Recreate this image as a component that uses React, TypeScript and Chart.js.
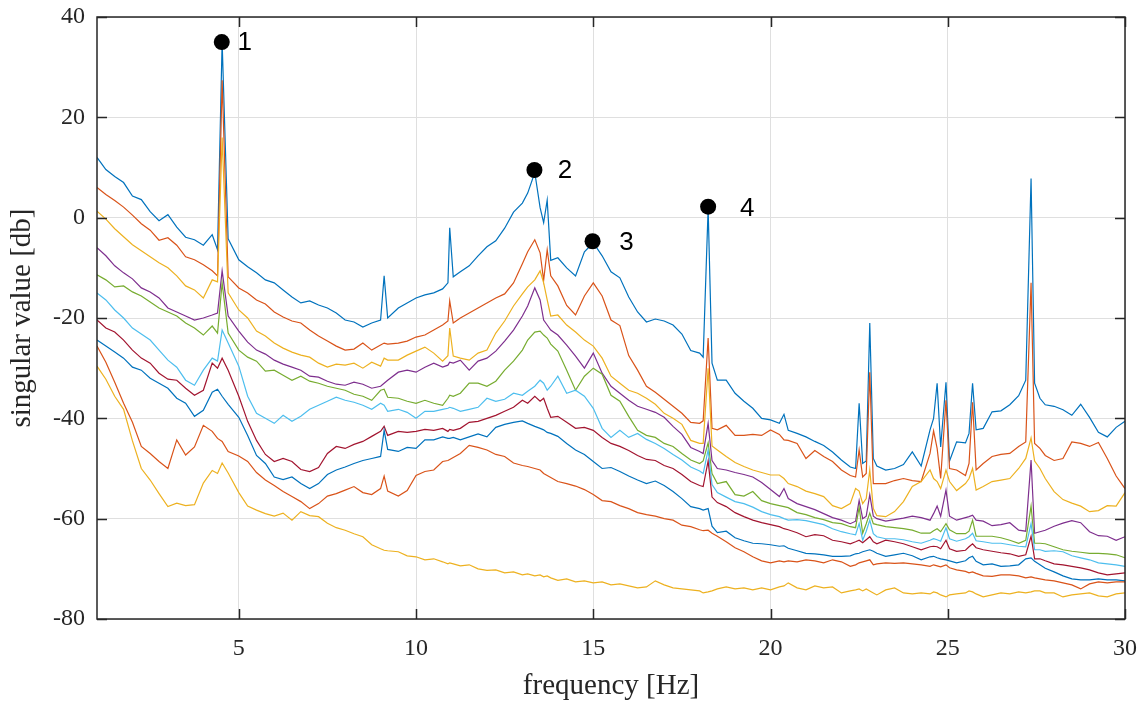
import React, { useEffect, useRef } from 'react';
import { Chart, registerables } from 'chart.js';

Chart.register(...registerables);

// frequency grid [Hz]
const freq = [
  1, 1.25, 1.5, 1.75, 2, 2.25, 2.5, 2.75, 3, 3.25,
  3.5, 3.75, 4, 4.25, 4.4, 4.53, 4.7, 5, 5.25, 5.5,
  5.75, 6, 6.25, 6.5, 6.75, 7, 7.25, 7.5, 7.75, 8,
  8.25, 8.5, 8.75, 9, 9.1, 9.2, 9.5, 9.75, 10, 10.25,
  10.5, 10.75, 10.9, 10.95, 11.05, 11.25, 11.5, 11.75, 12, 12.25,
  12.5, 12.75, 13, 13.15, 13.35, 13.5, 13.6, 13.7, 13.8, 14,
  14.25, 14.5, 14.75, 15, 15.25, 15.5, 15.75, 16, 16.25, 16.5,
  16.75, 17, 17.25, 17.5, 17.75, 18, 18.1, 18.24, 18.35, 18.5,
  18.75, 19, 19.25, 19.5, 19.75, 20, 20.25, 20.38, 20.5, 20.75,
  21, 21.25, 21.5, 21.75, 22, 22.25, 22.4, 22.5, 22.6, 22.7,
  22.8, 22.9, 23, 23.25, 23.5, 23.75, 24, 24.25, 24.5, 24.6,
  24.7, 24.8, 24.95, 25.05, 25.25, 25.5, 25.6, 25.7, 25.8, 26,
  26.25, 26.5, 26.75, 27, 27.2, 27.35, 27.45, 27.6, 27.75, 28,
  28.25, 28.5, 28.75, 29, 29.25, 29.5, 29.75, 30,
];

// singular values [db], one array per singular value
const sv1 = [
  12, 9.6, 8.2, 7, 4.3, 3.6, 1.2, -0.6, 0.6, -1.9,
  -3.9, -4.4, -5.5, -3.4, -6.4, 35, -4.2, -8.4, -9.8, -11,
  -12.4, -13, -14.4, -15.8, -17, -16.6, -17.4, -18, -19, -20.4,
  -20.8, -21.8, -21, -20.4, -11.6, -20, -18, -17, -16, -15.4,
  -15, -14.2, -13, -2, -11.8, -10.8, -9.6, -7.6, -5.8, -4.6,
  -2.1, 1.1, 2.9, 4.9, 9, 2, -1, 3.5, -8.5, -8,
  -10, -11.6, -6.8, -5, -7.6, -10.8, -12, -15.8, -18.8, -20.8,
  -20.2, -20.6, -21.4, -23.2, -26.5, -27, -27.8, 1.8, -29, -32.4,
  -32.4, -35, -36.6, -38, -40, -40.3, -41, -39.2, -42.4, -43,
  -43.7, -44.6, -45.4, -46.7, -48.3, -49.7, -50, -37, -49, -48.5,
  -21, -48, -49.5, -50.3, -50, -49.2, -46.7, -49.5, -42.3, -40,
  -33, -45.7, -32.8, -48.5, -44.7, -44.9, -43, -33, -42.3, -42,
  -38.7, -38.5, -37.3, -35.5, -32.4, 7.8, -33, -36, -37.3, -37.6,
  -38.3, -39.4, -37.2, -39.8, -42.8, -43.7, -41.8, -40.6,
];
const sv2 = [
  6, 4.6, 3.4, 2.1, 0.5, -1.2, -2.5, -4.5, -4, -5.5,
  -7.8, -8.4, -9.4, -10.6, -11.6, 27.4, -11.8, -14, -15, -16.4,
  -17.2, -18.8, -19.8, -20.6, -21, -22.4, -23.6, -24.6, -25.6, -26.4,
  -26.2, -25, -26.4, -25.4, -25, -25.2, -25, -24.6, -23.8, -23.4,
  -22.4, -21.4, -20.6, -16.6, -21, -20, -19, -18, -17, -16,
  -15.2, -13, -9.2, -6.8, -4.4, -7, -12.5, -6.4, -11.6, -13.6,
  -17.5, -19.4, -15.6, -13, -15.6, -20.4, -21.5, -27.5, -30.4, -33.6,
  -34.8, -36.2, -37.6, -39, -40.8, -41, -40.5, -24, -42, -42.3,
  -41.4, -43.4, -43.4, -43.2, -43.4, -42.3, -43.2, -44.3, -44.4, -45,
  -48, -46.4, -47.6, -48.6, -50.3, -51.4, -51.7, -46.3, -51.7, -51,
  -30.8, -53, -53, -53, -52.4, -52, -52.4, -52.6, -47, -42.5,
  -46, -52, -36.4, -50, -50.3, -51.4, -49, -36.8, -50.3, -49,
  -47.6, -47.2, -47, -45.6, -44.7, -13, -45, -46, -47.4, -48.4,
  -48, -44.7, -45, -45.6, -44.8, -48, -51.5, -54,
];
const sv3 = [
  1.3, -0.3, -2.2, -3.8, -5.4, -6.6, -7.8, -9, -10, -11.6,
  -13.6, -14.4, -16, -12.4, -12.8, 16, -15, -18.4, -20, -22.6,
  -23.6, -25, -26, -26.8, -27.4, -27.8, -29, -29.8, -29.2, -29.4,
  -29, -30, -28.8, -29.6, -28, -28.4, -28.4, -27.4, -26.6, -25.8,
  -27, -28.6, -27.5, -22, -27.6, -28, -28.4, -27, -26.4, -23,
  -20.6, -17.6, -15.2, -13.8, -12.4, -10.6, -13, -16.4, -19.6, -19.4,
  -21.4, -22.8, -24.4, -25.6, -28, -31.6, -33, -34.4, -35, -36,
  -37.2, -39, -40, -41.2, -44.4, -45, -45, -30, -45.5, -46.3,
  -47.6, -48.8, -49.6, -50.3, -50.8, -51.3, -51.3, -52, -53, -53.6,
  -54.5, -55, -55.6, -57.4, -58, -57, -54, -54.5, -57, -56,
  -50.3, -58, -59.4, -59.6, -58.6, -56.6, -53.6, -52.6, -50.3, -52,
  -52.6, -54, -50.3, -52.6, -54.4, -53, -52, -50, -54.3, -53.6,
  -52.6, -52.3, -52, -50, -48, -43.9, -48.5, -50, -52, -54.6,
  -56.2, -56.9, -57.5, -58.6, -58.4, -57.4, -57.5, -54.8,
];
const sv4 = [
  -6, -7.6, -9.6, -11, -12.2, -14, -14.8, -16, -18, -18.8,
  -19.6, -20.4, -20, -19.4, -19, -10.6, -19.6, -22.6, -24.8, -26.4,
  -27.2, -28.4, -29.2, -29.8, -30.4, -31.6, -31.8, -32.6, -33.2, -33.4,
  -32.8, -33.2, -34, -33.6, -33, -32.4, -30.8, -30.4, -30.8, -29.8,
  -29, -29.8, -29.4, -28.8, -29, -28.4, -30.4, -28.6, -28, -26.6,
  -24.6, -22.4, -19.6, -17.6, -14, -16.4, -20.4, -21.4, -22.4, -23.4,
  -25.4, -27.6, -30, -27, -31, -33.6, -35, -36.4, -37.6, -38.2,
  -38.8, -39.8, -41.6, -43.2, -45.8, -46.6, -47, -41, -48.4, -50,
  -50.3, -50.8, -51.2, -51.7, -52.8, -54.2, -55.6, -54, -56, -57,
  -57.6, -58.2, -59, -59.8, -60.3, -61, -60.5, -56.4, -60, -59.5,
  -55.2, -59.5, -60, -60.5, -60.2, -59.9, -59.5, -59.8, -60.3, -59,
  -57.5, -59.5, -54.3, -59.5, -60.3, -59.8, -59.6, -59.3, -60.3, -60.5,
  -61.4, -61.2, -60.8, -62.3, -62.5, -48.3, -62.9, -62.6, -62.3, -61.5,
  -60.9, -60.4, -60.8, -62.6, -63.4, -63.5, -64.3, -63.6,
];
const sv5 = [
  -11.4, -12.4, -13.8, -13.6, -14.8, -15.6, -16.8, -18, -18.8, -19.6,
  -21, -22, -23.4, -21.6, -23, -13, -23, -26.4, -27.8, -28.6,
  -30.6, -30.4, -31.4, -32.4, -31.6, -32.6, -33, -33.6, -34, -34.4,
  -35.2, -35.6, -36.4, -34.4, -34.2, -35.8, -36, -36.6, -37, -36.4,
  -37, -37.4, -36, -35.4, -35.6, -35, -33, -33, -33.6, -32.6,
  -30.4, -28.6, -26.4, -24.4, -22.8, -22.6, -23.4, -24, -25.2, -26.6,
  -30.4, -34.4, -31.6, -30, -31.2, -35.4, -36.6, -39.6, -42.4, -43.4,
  -43.8, -45, -45.6, -47, -48.3, -49, -48.5, -44.9, -51, -53,
  -52.6, -55.2, -55.5, -54.6, -56.4, -57, -57.4, -57.6, -57.8, -58.8,
  -59.2, -59.8, -60.2, -60.8, -61, -61.6, -61.8, -57.7, -62.9, -61,
  -58.9, -61, -61.2, -61.6, -61.8, -62, -62.3, -62.9, -62.9, -62.4,
  -62, -62.6, -61, -62.2, -63, -63, -62.5, -60.3, -63.5, -63.5,
  -63.5, -63.8, -64.3, -64.9, -64.3, -57.5, -64.9, -64.9, -65, -65.6,
  -66.2, -66.5, -66.7, -66.9, -66.9, -67, -67.2, -67.8,
];
const sv6 = [
  -15, -16.4, -18.4, -20, -22, -23.2, -24.4, -26.4, -28.4, -29.8,
  -32.4, -33.4, -30.4, -28, -28.6, -22.4, -25, -29.6, -35.6, -39,
  -40, -41, -39.4, -40.6, -39.6, -38.2, -37.4, -36.6, -35.8, -36.4,
  -36.8, -37.4, -38.2, -37, -37.4, -38.6, -38.2, -38.8, -40, -38.6,
  -38.6, -38.2, -38, -37.8, -38, -38.6, -38.2, -37.8, -36, -36.6,
  -36.2, -35, -35.4, -34.6, -33.6, -32.4, -33, -34.4, -33.6, -31.6,
  -35, -34.4, -35.6, -38, -42, -43.8, -42.4, -43.8, -43, -44.2,
  -45, -46, -47.2, -48.3, -49.7, -50.5, -51, -46.3, -53.2, -54.8,
  -55.7, -56.6, -57, -57.7, -58.6, -59.2, -59.6, -60, -60.3, -60.2,
  -60.4, -60.8, -61.2, -62, -62.6, -63, -63.2, -61, -64.3, -62.5,
  -60.3, -63, -63.6, -64, -64, -64.2, -64.6, -64.9, -64.3, -64,
  -64.2, -64.5, -61.8, -64, -64.5, -64, -63.6, -62.9, -64.4, -64.6,
  -64.9, -64.9, -65.2, -65.5, -65.6, -61, -66.2, -66.2, -66.5, -66.4,
  -66.6, -67.4, -67.8, -68.2, -68.8, -69, -69.2, -69.5,
];
const sv7 = [
  -20.4, -22, -22.8, -24.4, -26.4, -28, -29, -31, -32.2, -32.4,
  -34, -35.4, -34.4, -29, -30, -28, -30.4, -35.6, -40.6, -44.4,
  -47.2, -48.6, -48, -48.6, -50.2, -50.6, -49.8, -47, -45.6, -46,
  -45.2, -44.6, -43.6, -42.6, -41.6, -43.4, -42.6, -42.8, -42.6, -42.2,
  -42.4, -42, -42.6, -42.2, -42.4, -42, -40.8, -40.6, -40, -39.4,
  -38.6, -37.8, -36.4, -37, -35.6, -36.6, -36, -38, -39.8, -39.6,
  -40.8, -42, -41.8, -42.4, -43.8, -45, -45.6, -46.4, -47.4, -48.2,
  -48.4, -49.4, -50, -51.2, -52.6, -53.4, -53.6, -48.5, -55.7, -56.8,
  -57.6, -58.8, -59.6, -60.3, -60.8, -61.2, -61.6, -62, -62.2, -62.8,
  -63.6, -63.2, -63.4, -64.3, -64.6, -65, -64.6, -64.3, -64.8, -64.2,
  -63.6, -64.6, -65, -64.3, -64.6, -65, -65.6, -66.2, -65.6, -65.5,
  -65.6, -66, -64.3, -66, -66.5, -66.3, -65.6, -65, -65.8, -66.2,
  -66.5, -66.8, -67, -67.5, -67.2, -63.5, -68, -68, -68.4, -69,
  -69.2, -69.5, -69.8, -70.2, -70.8, -71.2, -71, -70.8,
];
const sv8 = [
  -24.4, -25.6, -26.8, -28, -29.8, -30.4, -32, -33, -34, -36,
  -37, -39.6, -38.4, -34.8, -34.2, -35.6, -37.2, -39.8, -43.4, -47.4,
  -49, -51.7, -52.2, -51.7, -53, -54, -53, -51.2, -50.3, -49.7,
  -49, -48.4, -48, -47.6, -42.4, -46.2, -46.6, -45.8, -46, -44.3,
  -44.3, -43.7, -44, -44, -43.8, -44.3, -43.7, -43.1, -43.7, -41.8,
  -41.2, -40.8, -40.5, -41, -41.6, -42, -42.3, -42.8, -43, -43.6,
  -45, -46.3, -47.2, -48.6, -50, -49.8, -50.6, -51.5, -52.3, -53,
  -52.5, -53.4, -54.6, -56, -57.6, -58, -58.3, -58, -61.5, -62.8,
  -62.5, -63.8, -64.4, -64.9, -65, -65.2, -65.5, -65.4, -65.9, -66.4,
  -66.9, -67, -67.2, -67.5, -67.5, -67.4, -67, -66.9, -66.6, -66.4,
  -66.2, -66.5, -66.9, -67.5, -67.2, -66.9, -67.4, -68.2, -67.6, -67.5,
  -67.8, -68, -68.2, -68.4, -68.8, -68.4, -67.8, -67.5, -68.5, -69.2,
  -69, -69.5, -69.4, -69.2, -68, -67.8, -68.5, -69.2, -69.9, -70.6,
  -71.4, -72, -72.2, -72.2, -72, -72.2, -72.2, -72.4,
];
const sv9 = [
  -25.6, -28.8, -32.8, -37, -40.8, -45.6, -47, -48.6, -50, -44.3,
  -47.3, -45.7, -41.4, -42.6, -44, -44.6, -46.6, -47.5, -48.6, -50.8,
  -52.3, -53.4, -54.6, -55.6, -56.6, -58, -57, -55.5, -55, -54.3,
  -53.6, -54.8, -55.2, -54, -51.5, -54.5, -55.5, -54.4, -51.4, -50.6,
  -50.3, -48.6, -48.4, -48.2, -47.8, -47, -45.4, -45.8, -46.3, -47.2,
  -47.6, -48.9, -49.4, -49.6, -50, -50.3, -51, -51.4, -51.8, -52.6,
  -53, -53.5, -54.2, -55.2, -56.4, -56.6, -57.4, -58, -58.8, -59.2,
  -59.5, -60, -60.3, -61.3, -61.6, -62.2, -62.4, -62.3, -62.9, -63.5,
  -64.6, -65.8, -66.6, -67.6, -68.4, -68.8, -68.4, -68.6, -68.4, -68.6,
  -68.2, -68.4, -68.8, -68.2, -68.6, -69.5, -69.2, -68.8, -68.6, -68.4,
  -68.2, -69.2, -69, -68.8, -68.9, -68.8, -69, -69.2, -69.5, -69.2,
  -69.4, -69.6, -69.2, -69.8, -70.2, -70.5, -70.8, -70.6, -70.9, -71.4,
  -71.5, -71.2, -71.2, -71.4, -71.8, -71.6, -71.8, -72, -72.2, -72.4,
  -72.8, -73.2, -74, -73, -72.6, -72.8, -72.6, -72.6,
];
const sv10 = [
  -29.6, -32.2, -35.6, -38.2, -44.5, -50, -52.3, -55, -57.6, -56.9,
  -57.4, -57.2, -52.9, -50.4, -51, -48.9, -50.9, -54.8, -57.5, -58.3,
  -59, -59.5, -58.9, -60.3, -58.6, -59.4, -59.6, -60.9, -61.8, -62.3,
  -63, -63.6, -65.2, -66, -66.3, -66.4, -66.6, -67.4, -67.6, -68.2,
  -68, -68.6, -69, -68.8, -69, -69.4, -69.2, -70, -70.3, -70.2,
  -70.8, -70.6, -71.2, -71, -71.4, -71.2, -71.6, -71.4, -71.8, -72.3,
  -72, -72.6, -72.4, -72.8, -72.6, -73.2, -73, -73.4, -73.8, -73.6,
  -72.4, -73.2, -73.8, -74, -74.2, -74.4, -74.8, -74.6, -74.4, -74,
  -73.6, -74, -73.8, -74.2, -73.8, -74.2, -73.6, -73.4, -72.8, -73.8,
  -74.2, -73.4, -73.8, -73.6, -74.8, -74.4, -74.2, -74, -74.4, -74,
  -74.4, -74.8, -75.2, -74.2, -73.8, -74.8, -75, -74.8, -75, -74.6,
  -74.8, -75.2, -75.6, -75.2, -75, -74.8, -74.4, -74.6, -75, -75.6,
  -75.2, -74.8, -75, -74.6, -74.8, -74.6, -74.4, -74.4, -74.8, -74.8,
  -75.6, -75.2, -75, -74.8, -75.4, -75.6, -75, -74.8,
];

const seriesValues = [sv1, sv2, sv3, sv4, sv5, sv6, sv7, sv8, sv9, sv10];
const seriesColors = [
  '#0072BD', '#D95319', '#EDB120', '#7E2F8E', '#77AC30',
  '#4DBEEE', '#A2142F', '#0072BD', '#D95319', '#EDB120',
];

// picked modes
const peakFreq = [4.52, 13.34, 14.98, 18.24];
const peakValue = [35, 9.5, -4.7, 2.2];
const peakLabels = ['1', '2', '3', '4'];
const labelFreq = [5.17, 14.2, 15.94, 19.34];
const labelValue = [34.8, 9.3, -5.0, 1.7];

const xTicks = [5, 10, 15, 20, 25, 30];
const yTicks = [-80, -60, -40, -20, 0, 20, 40];

const AXIS_COLOR = '#262626';
const SERIF = '"Liberation Serif", "Times New Roman", serif';

const framePlugin = {
  id: 'matlabFrame',
  afterDatasetsDraw(chart: any) {
    const { ctx, chartArea: a, scales } = chart;
    const xs = scales.x;
    const ys = scales.y;
    ctx.save();
    ctx.strokeStyle = AXIS_COLOR;
    ctx.lineWidth = 1.5;
    ctx.strokeRect(a.left, a.top, a.right - a.left, a.bottom - a.top);
    ctx.beginPath();
    const tl = 10;
    for (const t of xTicks) {
      const px = Math.round(xs.getPixelForValue(t)) + 0.5;
      ctx.moveTo(px, a.bottom);
      ctx.lineTo(px, a.bottom - tl);
      ctx.moveTo(px, a.top);
      ctx.lineTo(px, a.top + tl);
    }
    for (const t of yTicks) {
      const py = Math.round(ys.getPixelForValue(t)) + 0.5;
      ctx.moveTo(a.left, py);
      ctx.lineTo(a.left + tl, py);
      ctx.moveTo(a.right, py);
      ctx.lineTo(a.right - tl, py);
    }
    ctx.stroke();
    ctx.fillStyle = '#000000';
    ctx.font = '26px "Liberation Sans", Arial, sans-serif';
    ctx.textAlign = 'center';
    ctx.textBaseline = 'middle';
    peakLabels.forEach((lab, i) => {
      ctx.fillText(lab, xs.getPixelForValue(labelFreq[i]), ys.getPixelForValue(labelValue[i]));
    });
    ctx.restore();
  },
};

export default function App() {
  const canvasRef = useRef<HTMLCanvasElement | null>(null);

  useEffect(() => {
    const canvas = canvasRef.current;
    if (!canvas) return;

    const lineSets = seriesValues.map((vals, i) => ({
      type: 'line' as const,
      label: `sv${i + 1}`,
      data: freq.map((f, k) => ({ x: f, y: vals[k] })),
      borderColor: seriesColors[i],
      backgroundColor: seriesColors[i],
      borderWidth: 1.2,
      pointRadius: 0,
      tension: 0,
      fill: false,
      order: 20 - i,
    }));

    const dotSet = {
      type: 'scatter' as const,
      label: 'modes',
      data: peakFreq.map((f, i) => ({ x: f, y: peakValue[i] })),
      showLine: false,
      pointRadius: 8,
      pointBackgroundColor: '#000000',
      pointBorderColor: '#000000',
      pointBorderWidth: 0,
      order: 0,
    };

    const chart = new Chart(canvas, {
      type: 'line',
      data: { datasets: [...lineSets, dotSet] as any },
      options: {
        responsive: false,
        maintainAspectRatio: false,
        animation: false,
        layout: { padding: { left: 0, right: 21, top: 17, bottom: 0 } },
        plugins: { legend: { display: false }, tooltip: { enabled: false } },
        scales: {
          x: {
            type: 'linear',
            min: 1,
            max: 30,
            afterBuildTicks: (s: any) => {
              s.ticks = xTicks.map((v) => ({ value: v }));
            },
            afterFit: (s: any) => {
              s.height = 85;
              s.paddingLeft = 0;
              s.paddingRight = 0;
            },
            grid: { color: '#dfdfdf', lineWidth: 1, drawTicks: false },
            border: { display: false },
            ticks: {
              color: AXIS_COLOR,
              font: { family: SERIF, size: 24 },
              padding: 15,
              maxRotation: 0,
              autoSkip: false,
              callback: (v: any) => String(v),
            },
            title: {
              display: true,
              text: 'frequency [Hz]',
              color: AXIS_COLOR,
              font: { family: SERIF, size: 29 },
              padding: { top: 0, bottom: 0 },
            },
          },
          y: {
            type: 'linear',
            min: -80,
            max: 40,
            afterBuildTicks: (s: any) => {
              s.ticks = yTicks.map((v) => ({ value: v }));
            },
            afterFit: (s: any) => {
              s.width = 97;
              s.paddingTop = 0;
              s.paddingBottom = 0;
            },
            grid: { color: '#dfdfdf', lineWidth: 1, drawTicks: false },
            border: { display: false },
            ticks: {
              color: AXIS_COLOR,
              font: { family: SERIF, size: 24 },
              padding: 12,
              autoSkip: false,
              callback: (v: any) => String(v),
            },
            title: {
              display: true,
              text: 'singular value [db]',
              color: AXIS_COLOR,
              font: { family: SERIF, size: 29 },
              padding: { top: 5, bottom: 0 },
            },
          },
        },
      },
      plugins: [framePlugin],
    });

    return () => {
      chart.destroy();
    };
  }, []);

  return (
    <div style={{ position: 'fixed', left: 0, top: 0, width: 1146, height: 704, background: '#ffffff' }}>
      <canvas ref={canvasRef} width={1146} height={704} style={{ display: 'block' }} />
    </div>
  );
}
